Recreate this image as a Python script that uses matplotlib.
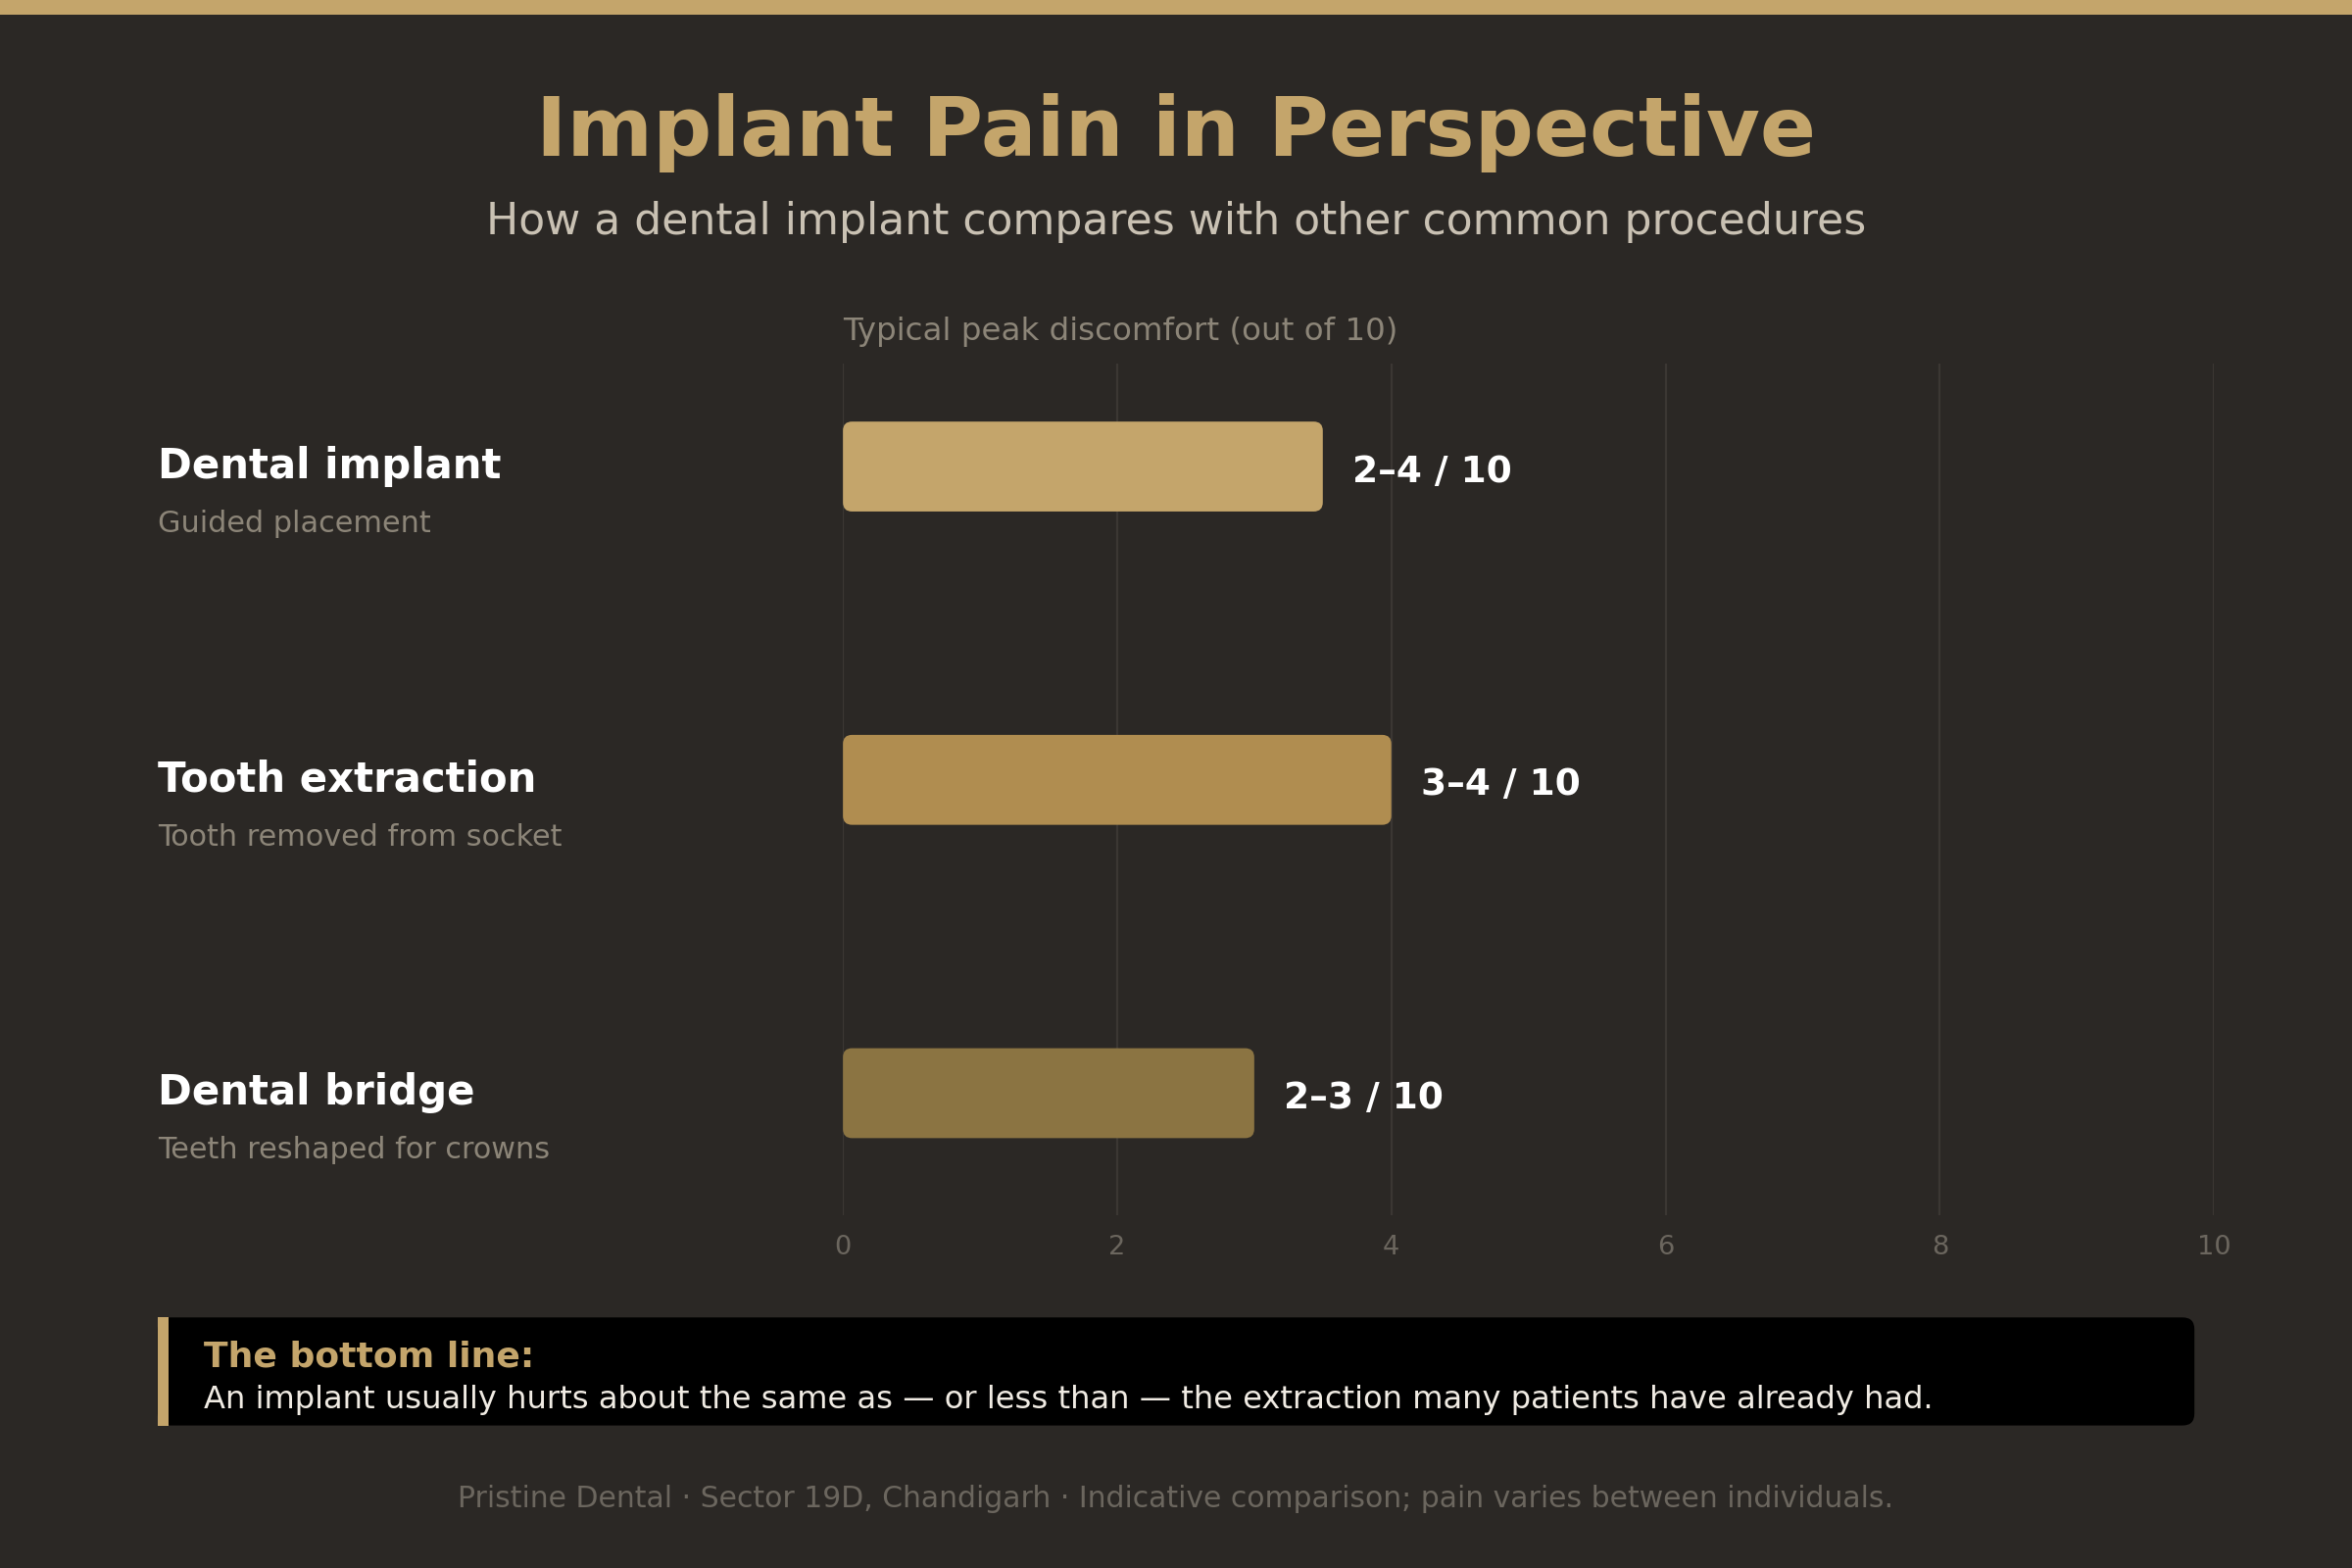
import matplotlib.pyplot as plt
from matplotlib.patches import FancyBboxPatch, Rectangle

# data
procedures = ['Dental implant', 'Tooth extraction', 'Dental bridge']
details = ['Guided placement', 'Tooth removed from socket', 'Teeth reshaped for crowns']
peak_scores = [3.5, 4.0, 3.0]
range_labels = ['2\u20134 / 10', '3\u20134 / 10', '2\u20133 / 10']
bar_colors = ['#c4a56b', '#b08d50', '#8b7442']
ticks = [0, 2, 4, 6, 8, 10]

BG = '#2b2825'
GOLD = '#c4a56b'
plt.rcParams['font.family'] = ['DejaVu Sans']

fig = plt.figure(figsize=(12, 8), dpi=200, facecolor=BG)

# gold strip on top
fig.add_artist(Rectangle((0, 1 - 0.0096), 1, 0.0096, transform=fig.transFigure,
                         facecolor=GOLD, edgecolor='none'))

fig.text(0.5, 0.9155, 'Implant Pain in Perspective', ha='center', va='center',
         fontsize=30.3, fontweight='bold', color=GOLD)
fig.text(0.5, 0.8585, 'How a dental implant compares with other common procedures',
         ha='center', va='center', fontsize=15.9, color='#c9c1b3')

ax = fig.add_axes([0.3584, 0.2249, 0.5829, 0.5435])
ax.set_facecolor(BG)
ax.set_xlim(0, 10)
ax.set_ylim(2.39, -0.33)

bar_h = 0.287
r = 0.066
for i, (v, c) in enumerate(zip(peak_scores, bar_colors)):
    ax.add_patch(FancyBboxPatch((0, i - bar_h / 2), v, bar_h,
                                boxstyle=f'round,pad=0,rounding_size={r}',
                                mutation_aspect=0.44, facecolor=c, edgecolor='none', zorder=3))
    ax.annotate(range_labels[i], xy=(v, i), xytext=(11, -2), textcoords='offset points',
                ha='left', va='center', fontsize=13.5, fontweight='bold', color='white')
    ax.annotate(procedures[i], xy=(0.067, i), xycoords=('figure fraction', 'data'),
                ha='left', va='center', fontsize=15.1, fontweight='bold', color='white')
    ax.annotate(details[i], xy=(0.067, i), xycoords=('figure fraction', 'data'),
                xytext=(0, -21), textcoords='offset points',
                ha='left', va='center', fontsize=10.9, color='#8c8578')

ax.set_xticks(ticks)
ax.set_xticklabels([str(t) for t in ticks])
ax.set_yticks([])
ax.tick_params(axis='x', length=0, pad=7, labelsize=9.8, labelcolor='#6b665e')
ax.grid(axis='x', color='#3b3733', linewidth=0.8, zorder=0)
for s in ax.spines.values():
    s.set_visible(False)

fig.text(0.3584, 0.7885, 'Typical peak discomfort (out of 10)', ha='left', va='center',
         fontsize=11.7, color='#8c8578')

# callout box
fig.add_artist(FancyBboxPatch((0.067, 0.0909), 0.866, 0.0689, transform=fig.transFigure,
                              boxstyle='round,pad=0,rounding_size=0.005', mutation_aspect=1.5,
                              facecolor='black', edgecolor='none'))
fig.add_artist(Rectangle((0.067, 0.0909), 0.0046, 0.0689, transform=fig.transFigure,
                         facecolor=GOLD, edgecolor='none'))
fig.text(0.0867, 0.1349, 'The bottom line:', ha='left', va='center',
         fontsize=13, fontweight='bold', color=GOLD)
fig.text(0.0867, 0.1072,
         'An implant usually hurts about the same as \u2014 or less than \u2014 the extraction many patients have already had.',
         ha='left', va='center', fontsize=11.55, color='#f0ebe3')

fig.text(0.5, 0.0440,
         'Pristine Dental \u00b7 Sector 19D, Chandigarh \u00b7 Indicative comparison; pain varies between individuals.',
         ha='center', va='center', fontsize=10.75, color='#6b665e')

fig.savefig('out.png', dpi=200, facecolor=BG)
